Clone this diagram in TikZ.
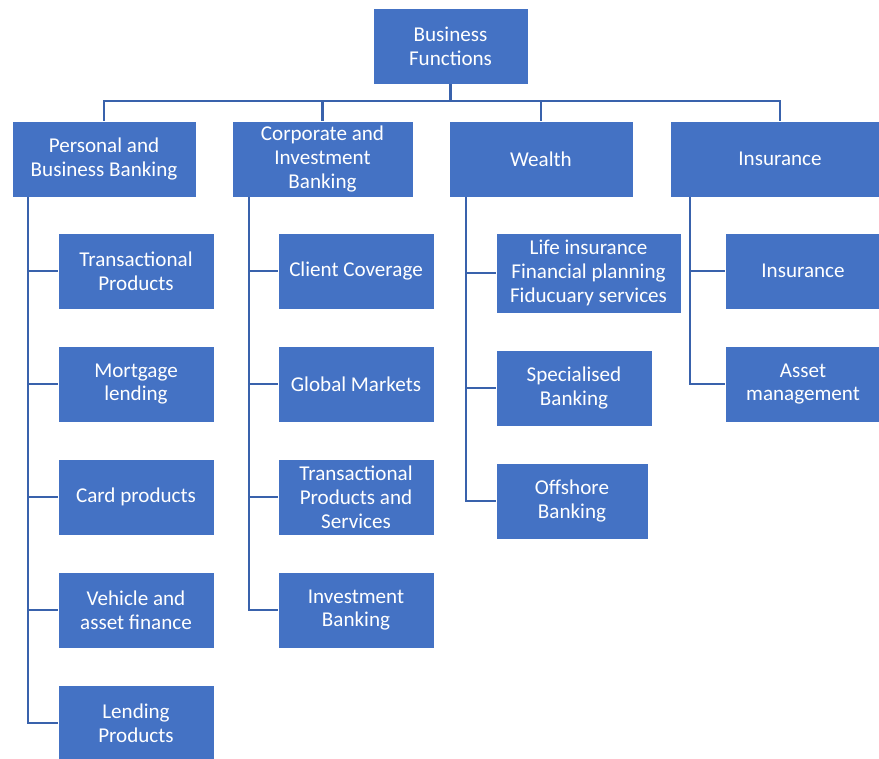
\documentclass[tikz,border=0pt]{standalone}
\usepackage{fontspec}
\setmainfont{Carlito}
\usepackage{tikz}
\definecolor{boxblue}{RGB}{68,114,196}
\definecolor{linkblue}{RGB}{57,98,172}
\tikzset{
	fnbox/.style = {rectangle, align=center, inner sep=2pt, fill=boxblue,
		draw=white, line width=0.4pt, text=white,
		font=\fontsize{15}{16.9}\selectfont, minimum height=1.9cm},% box of the chart
	link/.style = {draw=linkblue, line width=1.8pt}% elbow connector
}
\begin{document}
\begin{tikzpicture}[x=0.025cm, y=-0.025cm]
	\useasboundingbox (0,0) rectangle (879,758);
	\clip (0,0) rectangle (879,758);
	% top
	\node [fnbox, minimum width=3.875cm] (bf) at (450.5,46) {Business\\Functions};
	% first level
	\node [fnbox, minimum width=4.6cm] (pbb) at (104,159) {Personal and\\Business Banking};
	\node [fnbox, minimum width=4.525cm] (cib) at (322.5,159) {Corporate and\\Investment\\Banking};
	\node [fnbox, minimum width=4.6cm] (wlt) at (541,159) {Wealth};
	\node [fnbox, minimum width=5.5cm] (ins) at (780,159) {Insurance};
	% personal and business banking
	\node [fnbox, minimum width=3.9cm] (tp) at (136,271) {Transactional\\Products};
	\node [fnbox, minimum width=3.9cm] (ml) at (136,384) {Mortgage\\lending};
	\node [fnbox, minimum width=3.9cm] (cp) at (136,497) {Card products};
	\node [fnbox, minimum width=3.9cm] (vaf) at (136,610) {Vehicle and\\asset finance};
	\node [fnbox, minimum width=3.9cm] (lp) at (136,723) {Lending\\Products};
	% corporate and investment banking
	\node [fnbox, minimum width=3.9cm] (cc) at (356,271) {Client Coverage};
	\node [fnbox, minimum width=3.9cm] (gm) at (356,384) {Global Markets};
	\node [fnbox, minimum width=3.9cm] (tps) at (356,497) {Transactional\\Products and\\Services};
	\node [fnbox, minimum width=3.9cm] (ib) at (356,610) {Investment\\Banking};
	% wealth
	\node [fnbox, minimum width=4.625cm, minimum height=2cm] (lif) at (588.5,273) {Life insurance\\Financial planning\\Fiducuary services};
	\node [fnbox, minimum width=3.9cm] (sb) at (574,388) {Specialised\\Banking};
	\node [fnbox, minimum width=3.8cm] (ob) at (572,501) {Offshore\\Banking};
	% insurance
	\node [fnbox, minimum width=3.9cm] (insc) at (803,271) {Insurance};
	\node [fnbox, minimum width=3.9cm] (am) at (803,384) {Asset\\management};

	% connectors
	\coordinate (bar) at (450,101);
	\foreach \n in {pbb,cib,wlt,ins}
		\draw [link] (bf.south) -- (bf.south |- bar) -| (\n.north);
	\coordinate (s1) at (28,197);
	\coordinate (s2) at (249,197);
	\coordinate (s3) at (466,197);
	\coordinate (s4) at (690,197);
	\foreach \n in {tp,ml,cp,vaf,lp}
		\draw [link] (s1) |- (\n.west);
	\foreach \n in {cc,gm,tps,ib}
		\draw [link] (s2) |- (\n.west);
	\foreach \n in {lif,sb,ob}
		\draw [link] (s3) |- (\n.west);
	\foreach \n in {insc,am}
		\draw [link] (s4) |- (\n.west);
\end{tikzpicture}
\end{document}
